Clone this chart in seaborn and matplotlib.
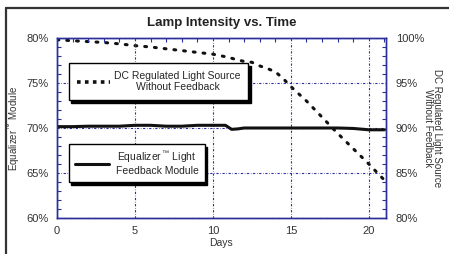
import matplotlib
matplotlib.use('Agg')
import matplotlib.pyplot as plt
import matplotlib.lines as mlines
from matplotlib.ticker import MultipleLocator, PercentFormatter
import seaborn as sns
import pandas as pd

# -----------------------------
# data
dc_days = [0, 1, 2, 3, 4, 5, 6, 7, 8, 9, 10, 11, 11.5, 12, 12.5, 13, 13.5, 14, 14.5,
           15, 16, 17, 18, 19, 20, 21]
dc_values = [99.8, 99.7, 99.6, 99.5, 99.35, 99.15, 99.0, 98.8, 98.6, 98.4, 98.2, 97.85, 97.6,
             97.4, 97.3, 96.9, 96.6, 96.25, 95.5, 94.6, 93.0, 91.2, 89.4, 87.7, 86.0, 84.2]

eq_days = [0, 1, 2, 3, 4, 5, 6, 7, 8, 9, 10, 10.8, 11.2, 11.6, 12, 13, 14, 15, 16, 17, 18,
           19, 20, 21]
eq_values = [70.15, 70.15, 70.2, 70.2, 70.2, 70.3, 70.3, 70.2, 70.2, 70.3, 70.3, 70.3, 69.85,
             69.9, 70.0, 70.0, 70.0, 70.0, 70.0, 70.0, 70.0, 69.95, 69.8, 69.8]

title = 'Lamp Intensity vs. Time'
dc_label = 'DC Regulated Light Source\nWithout Feedback'
eq_label = 'Equalizer$^{\\rm\\,™}$ Light\nFeedback Module'
left_ylabel = 'Equalizer$^{\\rm\\,™}$ Module'
right_ylabel = 'DC Regulated Light Source\nWithout Feedback'

dc_df = pd.DataFrame({'day': dc_days, 'value': dc_values})
eq_df = pd.DataFrame({'day': eq_days, 'value': eq_values})

sns.set_style('white')
plt.rcParams['font.family'] = ['Liberation Sans', 'DejaVu Sans']
plt.rcParams['mathtext.fontset'] = 'custom'
plt.rcParams['mathtext.rm'] = 'Liberation Sans'

blue = '#2a2f9c'

fig = plt.figure(figsize=(4.49, 2.54), dpi=100)
ax = fig.add_axes([57 / 449, 36 / 254, 329 / 449, 180 / 254])
ax2 = ax.twinx()

sns.lineplot(data=eq_df, x='day', y='value', ax=ax, color='#111111', linewidth=2.2,
             legend=False)
sns.lineplot(data=dc_df, x='day', y='value', ax=ax2, color='#111111', linewidth=2.2,
             linestyle=(0, (0.6, 2.6)), dash_capstyle='round', legend=False)

ax.set_xlim(0, 21.1)
ax.set_ylim(60, 80)
ax2.set_ylim(80, 100)

ax.xaxis.set_major_locator(MultipleLocator(5))
ax.xaxis.set_minor_locator(MultipleLocator(1))
ax.yaxis.set_major_locator(MultipleLocator(5))
ax.yaxis.set_minor_locator(MultipleLocator(1))
ax2.yaxis.set_major_locator(MultipleLocator(5))
ax2.yaxis.set_minor_locator(MultipleLocator(1))
ax.yaxis.set_major_formatter(PercentFormatter(decimals=0))
ax2.yaxis.set_major_formatter(PercentFormatter(decimals=0))

for a in (ax, ax2):
    for sp in a.spines.values():
        sp.set_color(blue)
        sp.set_linewidth(1.0)
ax.tick_params(axis='both', which='both', direction='in', color=blue, labelsize=8,
               labelcolor='#333333', top=True, pad=6)
ax.tick_params(which='major', length=0)
ax.tick_params(which='minor', length=3, width=0.8)
ax.tick_params(axis='x', pad=6)
ax2.tick_params(axis='y', which='both', direction='in', color=blue, labelsize=8,
                labelcolor='#333333', pad=7)
ax2.tick_params(which='major', length=0)
ax2.tick_params(which='minor', length=3, width=0.8)

ax.grid(True, which='major', color=blue, linestyle=(0, (2, 1.5, 0.5, 1.5)), linewidth=0.8)
ax2.grid(False)

ax.set_xlabel('Days', fontsize=7.5, color='#333333', labelpad=1)
ax.set_ylabel(left_ylabel, fontsize=7, color='#333333', labelpad=3)
ax2.set_ylabel(right_ylabel, fontsize=7, color='#333333', rotation=270, va='bottom',
               labelpad=-1, linespacing=0.95)
ax.set_title(title, fontsize=9.5, fontweight='bold', color='#222222', pad=9)

# legend boxes
dc_handle = mlines.Line2D([], [], color='#111111', linestyle=(0, (1, 1.2)), linewidth=2.6)
eq_handle = mlines.Line2D([], [], color='#111111', linewidth=2.2)

leg1 = ax.legend([dc_handle], [dc_label], loc='upper left', bbox_to_anchor=(0.036, 0.861),
                 fontsize=7.5, frameon=True, fancybox=False, handlelength=3.2,
                 handletextpad=0.4, borderpad=0.75, borderaxespad=0,
                 shadow={'color': 'black', 'alpha': 1, 'ox': 1.5, 'oy': -2.2})
leg1.get_frame().set_edgecolor('black')
leg1.get_frame().set_linewidth(1.0)
for t in leg1.get_texts():
    t.set_multialignment('center')
    t.set_linespacing(1.15)
ax.add_artist(leg1)

leg2 = ax.legend([eq_handle], [eq_label], loc='upper left', bbox_to_anchor=(0.036, 0.411),
                 fontsize=7.5, frameon=True, fancybox=False, handlelength=3.3,
                 handletextpad=0.6, borderpad=0.6, borderaxespad=0,
                 shadow={'color': 'black', 'alpha': 1, 'ox': 1.5, 'oy': -2.2})
leg2.get_frame().set_edgecolor('black')
leg2.get_frame().set_linewidth(1.0)
for t in leg2.get_texts():
    t.set_multialignment('center')
    t.set_linespacing(1.1)

ax.set_zorder(ax2.get_zorder() + 1)
ax.patch.set_visible(False)

# figure border on top and left
fig.add_artist(mlines.Line2D([6 / 449, 6 / 449], [0, 1 - 8 / 254], color='#333333',
                             linewidth=1.6, transform=fig.transFigure))
fig.add_artist(mlines.Line2D([6 / 449, 1], [1 - 8 / 254, 1 - 8 / 254], color='#333333',
                             linewidth=1.6, transform=fig.transFigure))

fig.savefig('out.png', dpi=100)
plt.close()
